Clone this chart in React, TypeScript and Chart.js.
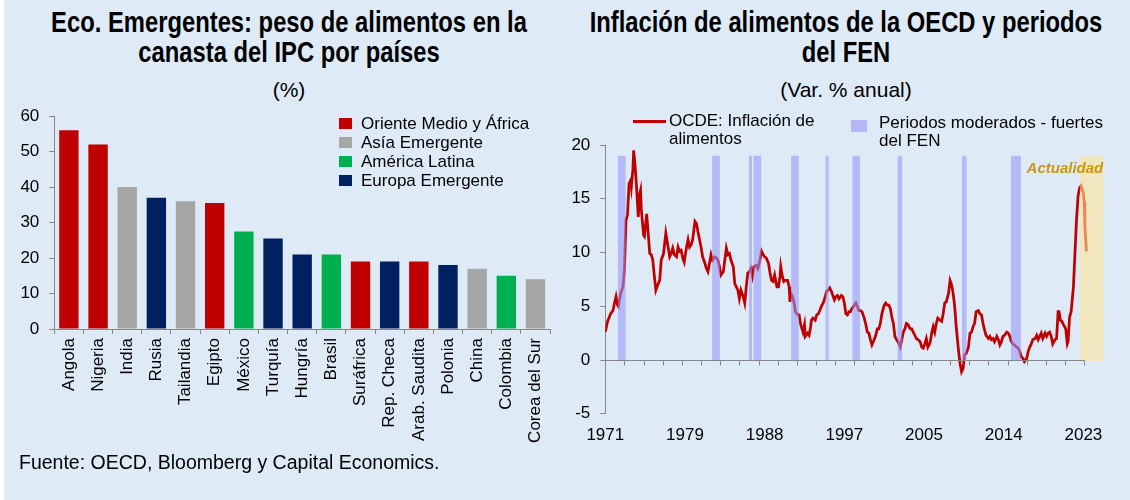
import React, { useEffect, useRef } from "react";
import { Chart, registerables } from "chart.js";

Chart.register(...registerables);

// ---------- Left chart data ----------
const countries = [
  "Angola", "Nigeria", "India", "Rusia", "Tailandia", "Egipto", "México", "Turquía", "Hungría",
  "Brasil", "Suráfrica", "Rep. Checa", "Arab. Saudita", "Polonia", "China", "Colombia", "Corea del Sur",
];
const foodWeight = [56, 52, 40, 37, 36, 35.5, 27.5, 25.5, 21, 21, 19, 19, 19, 18, 17, 15, 14];
const regionNames = ["Oriente Medio y África", "Asía Emergente", "América Latina", "Europa Emergente"];
const regionColors = ["#C00000", "#A6A6A6", "#00B050", "#002060"];
const countryRegion = [0, 0, 1, 3, 1, 0, 2, 3, 3, 2, 0, 3, 0, 3, 1, 2, 1];
const weightTicks = { min: 0, max: 60, step: 10 };

// ---------- Right chart data ----------
const startYear = 1971;
// [months since Jan 1971, OECD food inflation % y/y]
const foodInflation: [number, number][] = [
  [0, 2.6], [3, 3.6], [7, 4.3], [10, 4.6], [12, 5.3], [14, 5.9], [16, 5.1], [17, 5.0], [20, 6.2], [23, 6.8],
  [25, 8.4], [27, 13.0], [29, 13.5], [31, 16.4], [33, 16.7], [34, 16.1], [36, 17.7], [37, 19.5], [39, 18.0], [41, 15.8],
  [43, 13.3], [45, 15.5], [46, 15.8], [47, 14.0], [50, 11.6], [51, 11.5], [54, 13.6], [56, 11.8], [58, 9.9], [60, 9.8],
  [62, 9.3], [64, 7.8], [66, 6.5], [69, 7.1], [71, 7.4], [73, 9.3], [76, 9.9], [79, 11.8], [82, 10.5], [84, 9.6],
  [86, 9.9], [88, 10.4], [90, 9.8], [93, 9.6], [95, 10.5], [97, 10.1], [99, 10.2], [101, 9.5], [103, 9.1], [106, 10.5],
  [108, 11.2], [110, 10.5], [112, 10.7], [114, 11.2], [117, 12.9], [119, 12.7], [121, 11.9], [123, 11.2], [125, 10.5], [127, 9.6],
  [130, 9.0], [132, 8.5], [134, 8.2], [136, 9.0], [138, 9.8], [140, 9.3], [143, 9.6], [145, 9.5], [147, 9.3], [149, 8.7],
  [151, 7.9], [154, 8.2], [156, 9.3], [158, 10.4], [160, 9.8], [162, 9.9], [164, 9.3], [167, 8.7], [169, 7.1], [171, 6.8],
  [173, 6.5], [175, 5.7], [177, 6.5], [180, 5.9], [182, 5.3], [184, 6.8], [186, 8.1], [188, 8.2], [190, 8.5], [192, 7.8],
  [194, 8.7], [197, 8.8], [199, 8.5], [201, 9.0], [204, 10.1], [206, 9.8], [208, 9.6], [210, 9.5], [213, 9.0], [215, 8.1],
  [217, 7.4], [219, 7.3], [221, 7.9], [224, 6.8], [226, 6.8], [228, 7.8], [229, 8.7], [231, 7.8], [233, 7.3], [235, 7.4],
  [238, 7.4], [240, 6.8], [241, 5.4], [242, 6.2], [244, 6.0], [247, 5.1], [248, 4.5], [251, 4.2], [253, 4.2], [255, 3.3],
  [258, 2.6], [260, 3.3], [261, 2.2], [264, 2.5], [266, 2.3], [268, 3.1], [269, 3.7], [271, 3.9], [274, 3.7], [276, 4.2],
  [278, 4.3], [280, 4.6], [282, 5.0], [285, 5.4], [287, 5.9], [289, 6.4], [291, 6.5], [293, 6.7], [295, 6.4], [297, 6.0],
  [299, 5.6], [301, 5.9], [303, 6.0], [305, 5.7], [308, 6.0], [310, 5.9], [312, 5.3], [314, 4.3], [316, 4.2], [318, 4.5],
  [320, 4.5], [322, 4.8], [325, 5.1], [327, 5.3], [329, 5.0], [331, 4.6], [333, 4.6], [335, 4.5], [338, 3.9], [340, 3.3],
  [342, 2.6], [344, 2.5], [346, 1.9], [348, 1.4], [351, 1.9], [353, 2.3], [355, 2.9], [357, 2.9], [359, 3.4], [361, 4.3],
  [364, 5.1], [366, 5.3], [368, 5.1], [370, 5.1], [372, 4.8], [374, 4.0], [376, 3.4], [378, 2.2], [380, 1.9], [382, 1.7],
  [385, 1.2], [387, 1.9], [389, 2.6], [391, 2.9], [393, 3.4], [395, 3.3], [398, 2.9], [400, 2.9], [402, 2.6], [404, 2.3],
  [406, 2.0], [408, 1.9], [411, 1.7], [413, 1.2], [415, 1.1], [417, 1.5], [419, 2.0], [421, 1.2], [424, 1.6], [426, 2.5],
  [428, 3.1], [430, 2.6], [432, 3.4], [434, 3.9], [437, 3.7], [439, 3.6], [441, 4.3], [443, 5.3], [445, 5.4], [448, 6.2],
  [450, 7.4], [452, 7.0], [454, 6.2], [456, 5.0], [458, 3.1], [461, 0.9], [463, -0.3], [465, -1.1], [467, -0.8], [469, 0.5],
  [471, 0.6], [474, 1.2], [476, 2.5], [478, 2.6], [480, 3.1], [482, 3.4], [484, 4.5], [487, 4.6], [489, 4.3], [491, 4.2],
  [493, 3.4], [495, 2.8], [497, 2.3], [500, 2.0], [502, 2.2], [504, 1.9], [506, 2.0], [508, 1.7], [511, 2.2], [513, 1.9],
  [515, 1.4], [517, 1.7], [519, 2.2], [521, 2.3], [524, 2.6], [526, 2.5], [528, 2.2], [530, 1.7], [532, 1.5], [534, 1.4],
  [537, 1.2], [539, 1.1], [541, 0.8], [543, 0.3], [545, 0.15], [547, -0.15], [550, 0.15], [552, 0.8], [554, 1.2], [556, 1.5],
  [558, 1.9], [561, 2.0], [563, 2.3], [565, 1.9], [567, 2.2], [569, 2.5], [571, 2.0], [574, 2.5], [576, 2.2], [578, 2.5],
  [580, 2.6], [582, 2.2], [584, 1.5], [587, 1.9], [589, 2.0], [591, 4.5], [592, 4.6], [594, 3.7], [596, 3.6], [598, 3.3],
  [601, 2.9], [603, 1.5], [604, 1.7], [606, 4.0], [608, 4.5], [611, 6.8], [613, 9.9], [615, 13.0], [617, 15.2], [619, 16.0],
  [621, 16.2], [624, 15.5], [625, 14.7], [626, 12.4], [628, 10.1],
];
// El Niño moderate-strong periods [from, to]
const ninoPeriods: [string, string][] = [
  ["1972-05", "1973-03"], ["1982-08", "1983-06"], ["1986-08", "1986-12"], ["1987-02", "1987-12"],
  ["1991-03", "1992-01"], ["1994-12", "1995-04"], ["1997-11", "1998-09"], ["2002-10", "2003-04"],
  ["2009-10", "2010-04"], ["2015-02", "2016-03"],
];
const currentPeriod: [string, string] = ["2022-08", "2025-03"];
const bandRange = { low: -0.1, high: 19 };
const yearLabelMonths = [0, 104, 208, 312, 416, 520, 624];
const axisTickEvery = 25;
const lastAxisTick = 625;
const monthRange = { min: 0, max: 650 };
const inflTicks = { min: -5, max: 20, step: 5 };

// ---------- styles ----------
const BG = "#DEEBF7";
const AXIS = "#868686";
const NINO_FILL = "rgba(150,148,246,0.58)";
const NINO_LEGEND = "rgb(180,182,246)";
const CURRENT_FILL = "rgba(255,226,150,0.6)";
const RED = "#C00000";
const FONT = "'Liberation Sans', Arial, sans-serif";

const monthIndex = (s: string) => {
  const [y, m] = s.split("-").map(Number);
  return (y - startYear) * 12 + (m - 1);
};

const rightDecor = {
  id: "rightDecor",
  afterDatasetsDraw(chart: any) {
    const { ctx, chartArea, scales } = chart;
    const x = scales.x;
    const y = scales.y;
    ctx.save();
    ctx.beginPath();
    ctx.rect(chartArea.left, 0, chartArea.right - chartArea.left, chart.height);
    ctx.clip();
    const yTop = y.getPixelForValue(bandRange.high);
    const yBot = y.getPixelForValue(bandRange.low);
    ctx.fillStyle = NINO_FILL;
    for (const [s, e] of ninoPeriods) {
      const x0 = x.getPixelForValue(monthIndex(s) + 0.5);
      const x1 = x.getPixelForValue(monthIndex(e) + 0.5);
      ctx.fillRect(x0, yTop, x1 - x0, yBot - yTop);
    }
    ctx.fillStyle = CURRENT_FILL;
    const c0 = x.getPixelForValue(monthIndex(currentPeriod[0]) + 0.5);
    const c1 = Math.min(chartArea.right, x.getPixelForValue(monthIndex(currentPeriod[1]) + 0.5));
    ctx.fillRect(c0, yTop, c1 - c0, yBot - yTop);
    ctx.restore();

    ctx.save();
    ctx.strokeStyle = AXIS;
    ctx.lineWidth = 1;
    const y0 = Math.round(y.getPixelForValue(0)) + 0.5;
    ctx.beginPath();
    ctx.moveTo(chartArea.left, y0);
    ctx.lineTo(x.getPixelForValue(lastAxisTick) + 0.5, y0);
    for (let m = axisTickEvery; m <= lastAxisTick; m += axisTickEvery) {
      const px = Math.round(x.getPixelForValue(m)) + 0.5;
      ctx.moveTo(px, y0);
      ctx.lineTo(px, y0 + 5);
    }
    ctx.stroke();
    ctx.restore();
  },
};

function LeftChart() {
  const ref = useRef<HTMLCanvasElement>(null);
  useEffect(() => {
    const chart = new Chart(ref.current!, {
      type: "bar",
      data: {
        labels: countries,
        datasets: [
          {
            data: foodWeight,
            backgroundColor: countryRegion.map((r) => regionColors[r]),
            borderWidth: 0,
            categoryPercentage: 1,
            barPercentage: 0.665,
          },
        ],
      },
      options: {
        animation: false,
        responsive: false,
        layout: { padding: { top: 116, right: 4, left: 0, bottom: 0 } },
        plugins: { legend: { display: false }, tooltip: { enabled: false } },
        scales: {
          x: {
            grid: { drawOnChartArea: false, color: AXIS, tickLength: 5, offset: true },
            border: { color: AXIS },
            ticks: {
              minRotation: 90,
              maxRotation: 90,
              autoSkip: false,
              padding: 4,
              color: "#000",
              font: { family: FONT, size: 17 },
            },
            afterFit: (s: any) => {
              s.height = 171;
            },
          },
          y: {
            min: weightTicks.min,
            max: weightTicks.max,
            ticks: { stepSize: weightTicks.step, padding: 10, color: "#000", font: { family: FONT, size: 17 } },
            grid: { drawOnChartArea: false, color: AXIS, tickLength: 5 },
            border: { color: AXIS },
            afterFit: (s: any) => {
              s.width = 54.3;
            },
          },
        },
      },
    });
    return () => chart.destroy();
  }, []);
  return (
    <canvas
      ref={ref}
      width={560}
      height={500}
      style={{ position: "absolute", left: 0, top: 0, width: 560, height: 500 }}
    />
  );
}

function RightChart() {
  const ref = useRef<HTMLCanvasElement>(null);
  useEffect(() => {
    const chart = new Chart(ref.current!, {
      type: "line",
      data: {
        datasets: [
          {
            data: foodInflation.map(([m, v]) => ({ x: m, y: v })),
            borderColor: RED,
            borderWidth: 2.75,
            pointRadius: 0,
            tension: 0,
            fill: false,
          },
        ],
      },
      options: {
        animation: false,
        responsive: false,
        layout: { padding: { top: 145, right: 26.7, left: 0, bottom: 0 } },
        plugins: { legend: { display: false }, tooltip: { enabled: false } },
        scales: {
          x: {
            type: "linear",
            min: monthRange.min,
            max: monthRange.max,
            grid: { display: false, drawTicks: false },
            border: { display: false },
            afterBuildTicks: (s: any) => {
              s.ticks = yearLabelMonths.map((v) => ({ value: v }));
            },
            ticks: {
              autoSkip: false,
              maxRotation: 0,
              padding: 11,
              color: "#000",
              font: { family: FONT, size: 17 },
              callback: (v: any) => String(startYear + Math.floor(Number(v) / 12)),
            },
            afterFit: (s: any) => {
              s.height = 86.25;
            },
          },
          y: {
            min: inflTicks.min,
            max: inflTicks.max,
            ticks: { stepSize: inflTicks.step, padding: 10, color: "#000", font: { family: FONT, size: 17 } },
            grid: { drawOnChartArea: false, color: AXIS, tickLength: 5 },
            border: { color: AXIS },
            afterFit: (s: any) => {
              s.width = 45.3;
            },
          },
        },
      },
      plugins: [rightDecor],
    });
    return () => chart.destroy();
  }, []);
  return (
    <canvas
      ref={ref}
      width={570}
      height={500}
      style={{ position: "absolute", left: 560, top: 0, width: 570, height: 500 }}
    />
  );
}

// Narrow bold title: Liberation Sans Bold condensed horizontally (Arial Narrow look)
const titleStyle: React.CSSProperties = {
  position: "absolute",
  top: 6.5,
  width: 700,
  textAlign: "center",
  fontFamily: FONT,
  fontWeight: "bold",
  fontSize: 29,
  lineHeight: "30px",
  color: "#000",
  whiteSpace: "nowrap",
  transform: "scaleX(0.82)",
  transformOrigin: "50% 50%",
};
const subStyle: React.CSSProperties = {
  position: "absolute",
  top: 78,
  textAlign: "center",
  fontFamily: FONT,
  fontSize: 21,
  lineHeight: "24px",
  color: "#000",
};
const legendText: React.CSSProperties = {
  position: "absolute",
  fontFamily: FONT,
  fontSize: 17,
  color: "#000",
  whiteSpace: "nowrap",
};

export default function App() {
  return (
    <div
      style={{
        position: "fixed",
        left: 0,
        top: 0,
        width: 1130,
        height: 500,
        background: "#fff",
        overflow: "hidden",
      }}
    >
      <div style={{ position: "absolute", left: 4, top: 0, right: 0, bottom: 0, background: BG }} />

      <div style={{ ...titleStyle, left: 289 - 350 }}>
        Eco. Emergentes: peso de alimentos en la
        <br />
        canasta del IPC por países
      </div>
      <div style={{ ...subStyle, left: 10, width: 558 }}>(%)</div>

      <div style={{ ...titleStyle, left: 846 - 350 }}>
        Inflación de alimentos de la OECD y periodos
        <br />
        del FEN
      </div>
      <div style={{ ...subStyle, left: 560, width: 572 }}>(Var. % anual)</div>

      <LeftChart />
      <RightChart />

      {regionNames.map((name, i) => (
        <div key={name} style={{ ...legendText, left: 339, top: 114 + i * 19.1, height: 19, lineHeight: "19px" }}>
          <span
            style={{
              position: "absolute",
              left: 0,
              top: 4,
              width: 13,
              height: 11,
              background: regionColors[i],
            }}
          />
          <span style={{ position: "absolute", left: 22, top: 0 }}>{name}</span>
        </div>
      ))}

      <div style={{ position: "absolute", left: 633, top: 119.5, width: 33, height: 3, background: RED }} />
      <div style={{ ...legendText, left: 669, top: 112.1, lineHeight: "18px" }}>
        OCDE: Inflación de
        <br />
        alimentos
      </div>
      <div style={{ position: "absolute", left: 851, top: 120, width: 16, height: 12, background: NINO_LEGEND }} />
      <div style={{ ...legendText, left: 879, top: 113.7, lineHeight: "18px" }}>
        Periodos moderados - fuertes
        <br />
        del FEN
      </div>

      <div
        style={{
          position: "absolute",
          left: 990,
          width: 113.3,
          top: 159.3,
          textAlign: "right",
          fontFamily: FONT,
          fontSize: 15,
          lineHeight: "17px",
          fontWeight: "bold",
          fontStyle: "italic",
          color: "#C9980C",
        }}
      >
        Actualidad
      </div>

      <div
        style={{
          position: "absolute",
          left: 19,
          top: 450.6,
          fontFamily: FONT,
          fontSize: 19.5,
          lineHeight: "22px",
          color: "#000",
          whiteSpace: "nowrap",
        }}
      >
        Fuente: OECD, Bloomberg y Capital Economics.
      </div>
    </div>
  );
}
